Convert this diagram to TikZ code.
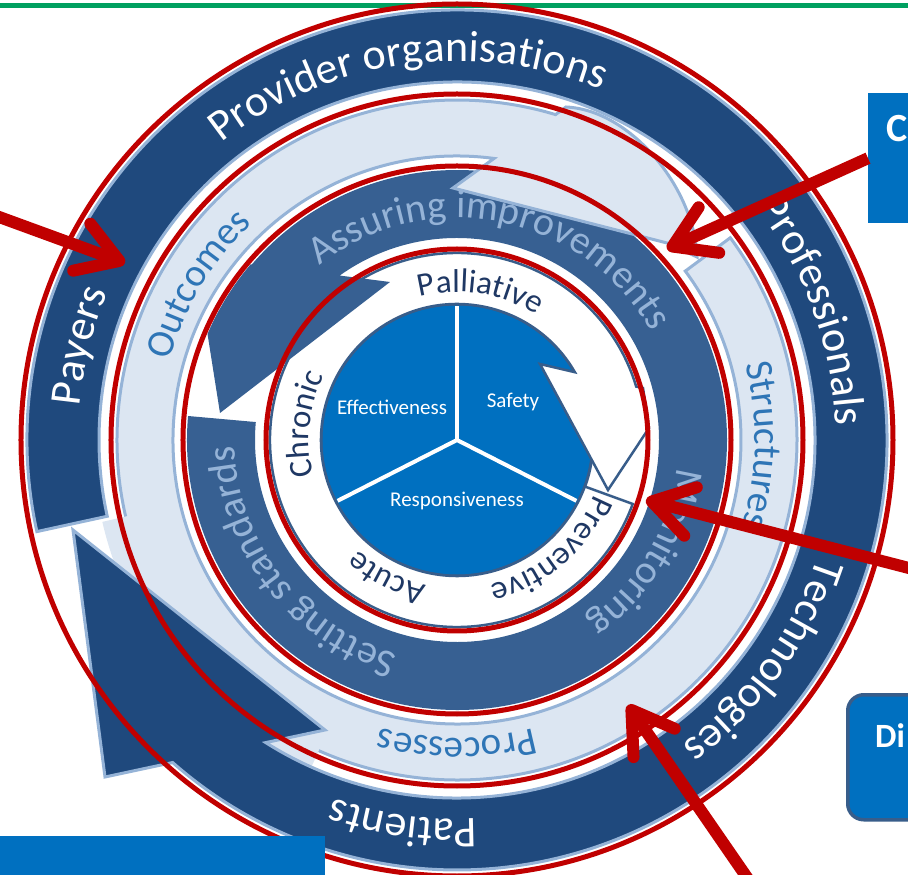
\documentclass[tikz,border=0pt]{standalone}
\usepackage{fontspec}
\setmainfont{Carlito}
\usepackage{tikz}
\usetikzlibrary{arrows.meta,positioning,decorations.text}

\definecolor{navyband}{HTML}{1F497D}
\definecolor{paleedge}{HTML}{95B3D7}
\definecolor{palefill}{HTML}{DCE6F2}
\definecolor{midband}{HTML}{376092}
\definecolor{piefill}{HTML}{0070C0}
\definecolor{pieedge}{HTML}{385D8A}
\definecolor{ringred}{HTML}{C00000}
\definecolor{paletext}{HTML}{2E75B6}
\definecolor{ringtext}{HTML}{1F3864}
\definecolor{topgreen}{HTML}{00A060}

\newcommand{\outerfont}{\fontsize{44}{44}\selectfont}
\newcommand{\palefont}{\fontsize{39}{39}\selectfont}
\newcommand{\midfont}{\fontsize{40}{40}\selectfont}
\newcommand{\carefont}{\fontsize{33}{33}\selectfont}

\begin{document}
\begin{tikzpicture}[x=1pt, y=1pt,
  bandtext/.style={decorate, decoration={text along path, text align=center, text={#1}}},
  redring/.style={draw=ringred, line width=5pt},
  redarrow/.style={ringred, line width=12pt, line cap=butt, -{Straight Barb[length=40pt, width=50pt, round]}},
  bluebox/.style={rectangle, fill=piefill, inner sep=0pt},
  boxlabel/.style={text=white, inner sep=0pt, font=\bfseries\fontsize{34}{34}\selectfont},
  pielabel/.style={text=white, inner sep=0pt, font=\fontsize{21}{21}\selectfont}
]
\useasboundingbox (-457,-435) rectangle (451,440);

% Header rule
\draw[topgreen, line width=5pt] (-457,434.5) -- (451,434.5);

% Quality dimensions
\filldraw[fill=piefill, draw=pieedge, line width=3pt] (0,0) circle[radius=136];
\foreach \a in {90,207,-27}
  \draw[white, line width=4pt] (0,0) -- (\a:134);
\node[pielabel] (eff) at (-65,33) {Effectiveness};
\node[pielabel] (saf) at (56,38) {Safety};
\node[pielabel] (resp) at (0,-61) {Responsiveness};

% Care types
\filldraw[fill=white, draw=pieedge, line width=2.5pt]
  (-20:187) arc[start angle=-20, end angle=-343.4, radius=187]
  -- (186,52) -- (192,12) -- (151,-50) -- (83,76)
  -- (-330.1:136) arc[start angle=-330.1, end angle=-20, radius=136] -- cycle;
\path[bandtext={|\color{ringtext}\carefont|Palliative}] (141:148) arc[start angle=141, end angle=21, radius=148];
\path[bandtext={|\color{ringtext}\carefont|Chronic}] (234:148) arc[start angle=234, end angle=114, radius=148];
\path[bandtext={|\color{ringtext}\carefont|Acute}] (303:148) arc[start angle=303, end angle=183, radius=148];
\path[bandtext={|\color{ringtext}\carefont|Preventive}] (10.6:148) arc[start angle=10.6, end angle=-109.4, radius=148];

% Cycle of standards
\begin{scope}
  \clip (0,0) circle[radius=271];
  \fill[midband] (174.9:270) arc[start angle=174.9, end angle=499.45, radius=270]
    -- (-261.6,182.8) -- (-237,27) -- (-67,158)
    -- (485.5:202) arc[start angle=485.5, end angle=174.9, radius=202] -- cycle;
\end{scope}
\path[bandtext={|\color{paleedge}\midfont|Assuring improvements}] (158.7:222) arc[start angle=158.7, end angle=-1.3, radius=222];
\path[bandtext={|\color{paleedge}\midfont|Monitoring}] (29.4:222) arc[start angle=29.4, end angle=-90.6, radius=222];
\path[bandtext={|\color{paleedge}\midfont|Setting standards}] (278:222) arc[start angle=278, end angle=158, radius=222];

% Donabedian ring
\filldraw[fill=palefill, draw=paleedge, line width=3pt]
  (36.5:340) arc[start angle=36.5, end angle=-286.85, radius=340]
  -- (109,333) .. controls (175,330) and (238,250) .. (240,183)
  -- (210,197) -- (-4,252) -- (-277.5:284)
  arc[start angle=-277.5, end angle=36.5, radius=284] -- cycle;
\path[bandtext={|\color{paletext}\palefont|Outcomes}] (199:298) arc[start angle=199, end angle=99, radius=298];
\path[bandtext={|\color{paletext}\palefont|Structures}] (49:298) arc[start angle=49, end angle=-51, radius=298];
\path[bandtext={|\color{paletext}\palefont|Processes}] (-40:298) arc[start angle=-40, end angle=-140, radius=298];

% Stakeholders
\fill[palefill] (193:336) arc[start angle=193, end angle=246, radius=336]
  -- (246:364) arc[start angle=246, end angle=193, radius=364] -- cycle;
\filldraw[fill=navyband, draw=paleedge, line width=3pt]
  (192.3:430) arc[start angle=192.3, end angle=-131.4, radius=430]
  -- (-352,-337) -- (-384,-90) -- (-132,-290) -- (-122.3:358)
  arc[start angle=-122.3, end angle=192.3, radius=358] -- cycle;
\path[bandtext={|\color{white}\outerfont|Payers}] (206:379) arc[start angle=206, end angle=126, radius=379];
\path[bandtext={|\color{white}\outerfont|Provider organisations}] (148:379) arc[start angle=148, end angle=48, radius=379];
\path[bandtext={|\color{white}\outerfont|Professionals}] (60:379) arc[start angle=60, end angle=-20, radius=379];
\path[bandtext={|\color{white}\outerfont|Technologies}] (4.2:379) arc[start angle=4.2, end angle=-75.8, radius=379];
\path[bandtext={|\color{white}\outerfont|Patients}] (-58:379) arc[start angle=-58, end angle=-138, radius=379];

% Red rings
\foreach \r in {191,274,346,436}
  \draw[redring] (0,0) circle[radius=\r];

% Boxes
\node[bluebox, minimum width=100pt, minimum height=130pt, anchor=north west] (topbox) at (411,347) {};
\node[boxlabel, font=\bfseries\fontsize{40}{40}\selectfont, anchor=west] (toplabel) at (429,311) {C};
\node[bluebox, draw=pieedge, line width=3.5pt, rounded corners=16pt, minimum width=130pt, minimum height=125pt, anchor=north west] (dibox) at (389,-253) {};
\node[boxlabel, anchor=west] (dilabel) at (418,-296) {Di};
\node[bluebox, minimum width=330pt, minimum height=50pt, anchor=north west] (basebox) at (-462,-396) {};

% Pointers
\coordinate (leftfoot) at (-477,230);
\coordinate (payerstip) at (-332,177);
\coordinate (assuretip) at (210,191);
\coordinate (rightfoot) at (475,-134);
\coordinate (monitortip) at (189,-60);
\coordinate (lowfoot) at (300,-452);
\coordinate (processtip) at (171,-265);
\draw[redarrow] (leftfoot) -- (payerstip);
\draw[redarrow] (topbox.west) -- (assuretip);
\draw[redarrow] (rightfoot) -- (monitortip);
\draw[redarrow] (lowfoot) -- (processtip);

\end{tikzpicture}
\end{document}
